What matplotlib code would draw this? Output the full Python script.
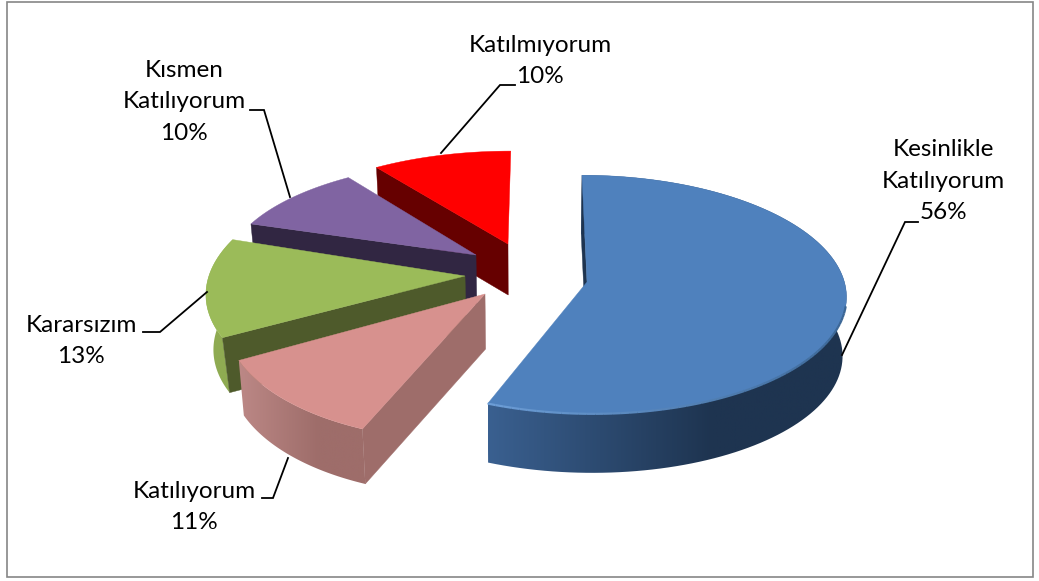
import numpy as np
import matplotlib
matplotlib.use("Agg")
import matplotlib.pyplot as plt
from matplotlib.collections import LineCollection
from matplotlib.colors import to_rgb
from matplotlib.patches import Rectangle, Polygon

plt.rcParams['font.family'] = ['Lato', 'DejaVu Sans']

categories = ["Kesinlikle\nKatılıyorum", "Katılıyorum", "Kararsızım", "Kısmen\nKatılıyorum", "Katılmıyorum"]
percents = [56, 11, 13, 10, 10]

# look of each slice (same order as categories)
top_colors = ["#4F81BD", "#D7918E", "#9BBB59", "#8064A2", "#FF0000"]
side_left = ["#3A6090", "#BC8886", "#8FAB52", "#6A5488", "#A00000"]
side_right = ["#1E3450", "#9E6D6A", "#8FAB52", "#6A5488", "#800000"]
cut_colors = ["#1E3450", "#9E6D6A", "#4E5A2B", "#312642", "#660000"]
show_wall = [True, True, True, False, False]

# exploded position and projection of each slice, in pixels
apex_x = [587, 485, 465, 476, 508]
apex_y = [282, 294, 276, 255, 244]
depth = [59, 55, 55, 50, 51]
lean = [0.012, 0.018, 0.024, 0.018, 0.018]
scale_x = [0.99, 0.99, 0.985, 0.95, 0.95]
scale_y = [1.0, 1.11, 1.03, 0.88, 0.87]
shear = [0.047, -0.13, -0.1, -0.08, -0.03]
radius_x = 260
radius_y = 118
persp = 0.105
draw_order = [4, 3, 2, 1, 0]


def project(i, theta):
    u = np.sin(theta)
    v = np.cos(theta)
    p = 1 / (1 + persp * v)
    dy = -radius_y * scale_y[i] * v * p
    dx = radius_x * scale_x[i] * u * p + shear[i] * dy
    return apex_x[i] + dx, apex_y[i] + dy


def drop(i, x, y):
    # lower face, verticals lean a little towards the vanishing point
    return x + lean[i] * (520 - x), y + depth[i]


def mix(c1, c2, t):
    c1 = np.array(to_rgb(c1))
    c2 = np.array(to_rgb(c2))
    return tuple(c1 + (c2 - c1) * t)


fig = plt.figure(figsize=(10.39, 5.81), dpi=100)
ax = fig.add_axes([0, 0, 1, 1])

ax.add_patch(Rectangle((6.5, 1.5), 1026, 575.5, fill=False, ec="#868686", lw=1.2))

ends = np.cumsum(percents) / sum(percents) * 2 * np.pi
starts = np.concatenate([[0], ends[:-1]])

for i in draw_order:
    theta = np.linspace(starts[i], ends[i], 120)
    x, y = project(i, theta)
    xb, yb = drop(i, x, y)
    base = i * -3 + 20

    # outer wall, a left to right gradient clipped to the wall outline
    if show_wall[i]:
        x0 = min(x.min(), xb.min())
        x1 = max(x.max(), xb.max())
        fr = np.clip(np.linspace(0, 1, 256) * 1.6, 0, 1)
        grad = np.array([[mix(side_left[i], side_right[i], f) for f in fr]])
        outline = np.column_stack([np.r_[x, xb[::-1]], np.r_[y, yb[::-1]]])
        wall = Polygon(outline, closed=True, fc="none", ec="none", transform=ax.transData)
        ax.add_patch(wall)
        img = ax.imshow(grad, extent=[x0, x1, yb.max(), y.min()], aspect="auto", zorder=base)
        img.set_clip_path(wall)

    # cut face on the starting edge
    ax0, ay0 = apex_x[i], apex_y[i]
    axb, ayb = drop(i, ax0, ay0)
    ax.fill([ax0, x[0], xb[0], axb], [ay0, y[0], yb[0], ayb], color=cut_colors[i], lw=0.3, zorder=base + 1)

    # top face
    ax.fill(np.r_[ax0, x], np.r_[ay0, y], color=top_colors[i], lw=0.3, zorder=base + 2)

    # bevel along the front rim of the big slice
    if i == 0:
        front = theta > np.radians(100)
        pts = np.column_stack([x[front], y[front]])
        segs = np.stack([pts[:-1], pts[1:]], axis=1)
        fr = np.linspace(0, 1, len(segs))
        rim = [mix("#3A6594", "#6C9DD6", f ** 1.3) for f in fr]
        ax.add_collection(LineCollection(segs, colors=rim, linewidths=1.6, zorder=base + 3))

# leader lines
line_x = [[842, 905, 918], [288, 273, 262], [207, 160, 143], [290, 264, 250], [441, 500, 515]]
line_y = [[355, 222, 222], [458, 498, 498], [292, 332, 332], [197, 110, 110], [153, 85, 85]]
for lx, ly in zip(line_x, line_y):
    ax.plot(lx, ly, color="black", lw=1.3, solid_joinstyle="miter", zorder=30)

# labels
label_x = [943, 194, 81, 184, 540]
label_y = [181, 507, 341, 102, 61]
for name, pct, lx, ly in zip(categories, percents, label_x, label_y):
    ax.text(lx, ly, f"{name}\n{pct}%", ha="center", va="center", fontsize=17.5,
            color="black", linespacing=1.6, zorder=31)

ax.set_xlim(0, 1039)
ax.set_ylim(581, 0)
ax.axis("off")

fig.savefig("out.png", dpi=100)
